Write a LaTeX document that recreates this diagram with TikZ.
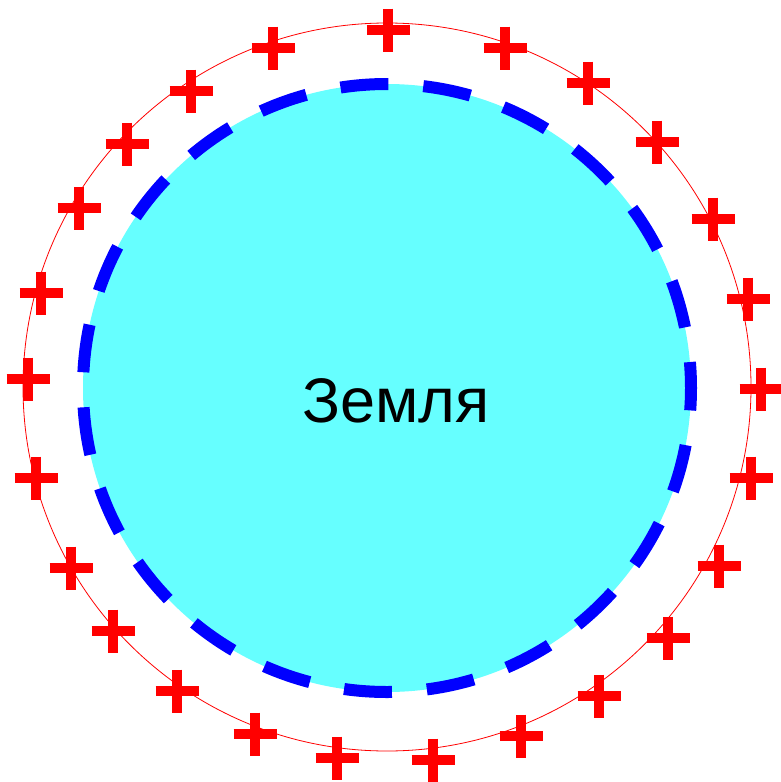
\documentclass[tikz,border=0pt]{standalone}
\usepackage{fontspec}
\setmainfont{Liberation Sans}
\usepackage{tikz}
\usetikzlibrary{backgrounds}

\definecolor{earthcyan}{RGB}{102,255,255}
\definecolor{chargered}{RGB}{255,0,0}
\definecolor{layerblue}{RGB}{0,0,255}

\tikzset{
    charge/.style={draw=chargered, line width=10pt},
    orbit/.style={draw=chargered, line width=0.8pt},
    layer/.style={draw=layerblue, line width=12pt, dash pattern=on 48pt off 35.04pt, dash phase=22pt}
}

\begin{document}
\begin{tikzpicture}[x=1pt, y=-1pt]
    \useasboundingbox (0,0) rectangle (780,782);

    % Earth with its layer
    \coordinate (c) at (387,388);
    \fill[earthcyan] (c) circle (304pt);
    \draw[layer] (c) circle (304pt);
    \node[inner sep=0pt, font=\fontsize{63}{70}\selectfont] (earth) at (396,401) {Земля};

    % Outer circle of charges
    \draw[orbit] (387,387) circle (364pt);

    % Charges
    \foreach \x/\y in {388/30, 505/48, 588/83, 657/142, 713/219, 748/299, 761/389,
                       751/478, 719/566, 668/638, 599/696, 521/736, 433/760,
                       337/758, 255/734, 177/691, 113/631, 71/568, 36/478,
                       28/379, 41/293, 79/208, 127/144, 191/91, 273/48}
        \draw[charge] (\x-21.5,\y) -- ++(43,0) (\x,\y-21.5) -- ++(0,43);
\end{tikzpicture}
\end{document}
